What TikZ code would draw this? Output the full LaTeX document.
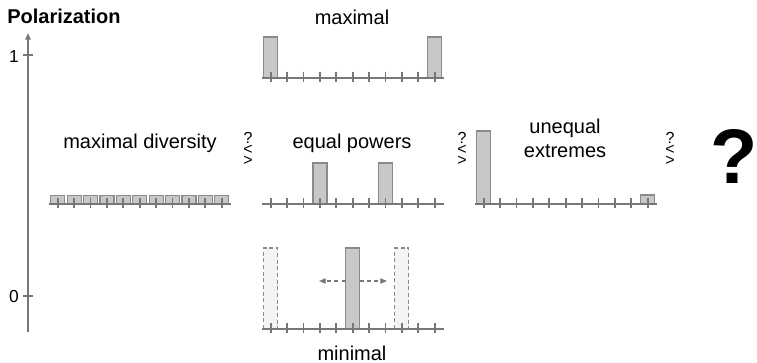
\documentclass[tikz,border=0pt]{standalone}
\usepackage{fontspec}
\setmainfont{Liberation Sans}
\usetikzlibrary{arrows.meta}
\definecolor{axisgray}{HTML}{777777}
\definecolor{barfill}{HTML}{C8C8C8}
\definecolor{baredge}{HTML}{8A8A8A}
\definecolor{ghostfill}{HTML}{F4F4F4}
\newcommand\mypanel[2]{%
  \draw[baseln] (#1,#2) -- ++(182,0);
  \foreach \i in {0,...,10} \draw[tk] ({#1+8.7+16.4*\i},{#2-6}) -- ++(0,10);}
\newcommand\mybar[5][barbox]{%
  \draw[#1] ({#2+8.7+16.4*#4-7},#3) rectangle ++(14,-#5);}
\begin{document}
\begin{tikzpicture}[x=0.75pt,y=-0.75pt,
  baseln/.style={draw=axisgray,line width=1.6pt},
  tk/.style={draw=axisgray,line width=1.3pt},
  barbox/.style={draw=baredge,fill=barfill,line width=0.9pt},
  ghost/.style={draw=baredge,fill=ghostfill,dashed,dash pattern=on 3pt off 2pt,line width=0.8pt},
  lbl/.style={font=\fontsize{15}{18}\selectfont,inner sep=0pt,align=center},
  cmp/.style={font=\fontsize{12}{8.5}\selectfont,inner sep=0pt,align=center},
  axisln/.style={draw=axisgray,line width=1.5pt},
  darr/.style={draw=axisgray,line width=0.9pt,dashed,dash pattern=on 3pt off 2.5pt,-{Triangle[length=5pt,width=4pt]}}]
\useasboundingbox (0,0) rectangle (757,363);
% axis
\coordinate (ybot) at (28,332);
\coordinate (ytop) at (28,33);
\draw[axisln,-{Triangle[length=5pt,width=4pt]}] (ybot) -- (ytop);
\draw[axisln,line width=1.1pt] (23,55) -- (33,55);
\draw[axisln,line width=1.1pt] (23,296) -- (33,296);
\node[font=\fontsize{13}{15}\selectfont,inner sep=0pt] (one) at (14,56.5) {1};
\node[font=\fontsize{13}{15}\selectfont,inner sep=0pt] (zero) at (14,297) {0};
\node[font=\bfseries\fontsize{15}{18}\selectfont,inner sep=0pt,anchor=west] (pol) at (7,16) {Polarization};
% maximal
\node[lbl] (tmax) at (352,17) {maximal};
\mybar{262}{78}{0}{41}
\mybar{262}{78}{10}{41}
\mypanel{262}{78}
% maximal diversity
\node[lbl] (tdiv) at (140,143) {maximal diversity};
\foreach \k in {0,...,10} {\mybar{49}{204}{\k}{8.5}}
\mypanel{49}{204}
% equal powers
\node[lbl] (teq) at (352,143) {equal powers};
\mybar{262}{204}{3}{41}
\mybar{262}{204}{7}{41}
\mypanel{262}{204}
% unequal extremes
\node[lbl] (tuneq) at (565,138) {unequal\\extremes};
\mybar{475}{204}{0}{73}
\mybar{475}{204}{10}{9}
\mypanel{475}{204}
% minimal
\node[lbl] (tmin) at (352,353) {minimal};
\mybar[ghost]{262}{329}{0}{81}
\mybar[ghost]{262}{329}{8}{81}
\mybar{262}{329}{5}{81}
\mypanel{262}{329}
\coordinate (bl) at (345.7,281);
\coordinate (br) at (359.7,281);
\coordinate (al) at (319,281);
\coordinate (ar) at (387,281);
\draw[darr] (bl) -- (al);
\draw[darr] (br) -- (ar);
% comparison marks
\node[cmp] (c1) at (248,149) {?\\<\\>};
\node[cmp] (c2) at (462,149) {?\\<\\>};
\node[cmp] (c3) at (670,149) {?\\<\\>};
\node[font=\bfseries\fontsize{58}{58}\selectfont,inner sep=0pt] (bigq) at (734,157) {?};
\end{tikzpicture}
\end{document}
